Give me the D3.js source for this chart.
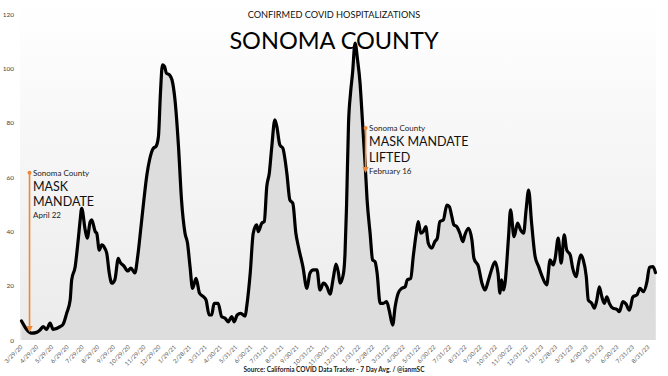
<!DOCTYPE html>
<html>
<head>
<meta charset="utf-8">
<script src="https://cdn.jsdelivr.net/npm/d3@7"></script>
<style>
  body { margin: 0; background: #fff; }
  svg { display: block; font-family: Lato, "Open Sans", sans-serif; }
</style>
</head>
<body>
<svg id="chart" width="668" height="376"></svg>
<script>
// 7 day avg of confirmed covid hospitalizations
var hospDates = ["2020-04-01","2020-04-21","2020-05-01","2020-05-08","2020-05-14","2020-05-21","2020-05-28","2020-06-03","2020-06-17","2020-06-23","2020-06-30","2020-07-07","2020-07-10","2020-07-17","2020-07-23","2020-07-27","2020-07-30","2020-08-06","2020-08-10","2020-08-16","2020-08-19","2020-08-26","2020-08-29","2020-09-03","2020-09-08","2020-09-14","2020-09-18","2020-09-23","2020-09-28","2020-10-04","2020-10-11","2020-10-14","2020-10-22","2020-10-30","2020-11-05","2020-11-13","2020-11-19","2020-11-25","2020-12-01","2020-12-07","2020-12-13","2020-12-20","2020-12-25","2020-12-30",
"2021-01-03","2021-01-07","2021-01-11","2021-01-15","2021-01-21","2021-01-26","2021-02-01","2021-02-08","2021-02-14","2021-02-21","2021-02-26","2021-03-03","2021-03-08","2021-03-15","2021-03-22","2021-03-30","2021-04-04","2021-04-10","2021-04-15","2021-04-20","2021-04-28","2021-05-05","2021-05-12","2021-05-18","2021-05-25","2021-05-30","2021-06-05","2021-06-12","2021-06-21","2021-06-24","2021-07-01","2021-07-07","2021-07-14","2021-07-17","2021-07-24","2021-07-29","2021-08-03","2021-08-08","2021-08-13","2021-08-19","2021-08-23","2021-08-29","2021-09-04","2021-09-12","2021-09-18","2021-09-24","2021-09-30","2021-10-05","2021-10-14","2021-10-22","2021-10-28","2021-11-04","2021-11-11","2021-11-17","2021-11-24","2021-12-01","2021-12-07","2021-12-14","2021-12-19","2021-12-24","2021-12-27",
"2022-01-03","2022-01-06","2022-01-09","2022-01-13","2022-01-17","2022-01-21","2022-01-26","2022-01-31","2022-02-05","2022-02-08","2022-02-12","2022-02-15","2022-02-19","2022-02-25","2022-03-02","2022-03-07","2022-03-11","2022-03-17","2022-03-23","2022-03-30","2022-04-04","2022-04-11","2022-04-16","2022-04-22","2022-04-29","2022-05-06","2022-05-10","2022-05-17","2022-05-22","2022-05-28","2022-06-01","2022-06-06","2022-06-11","2022-06-16","2022-06-21","2022-06-28","2022-07-04","2022-07-09","2022-07-14","2022-07-21","2022-07-28","2022-08-02","2022-08-07","2022-08-11","2022-08-17","2022-08-23","2022-08-29","2022-09-02","2022-09-09","2022-09-16","2022-09-20","2022-09-29","2022-10-06","2022-10-12","2022-10-19","2022-10-25","2022-11-01","2022-11-07","2022-11-11","2022-11-14","2022-11-18","2022-11-21","2022-11-28","2022-12-02","2022-12-09","2022-12-16","2022-12-22","2022-12-28",
"2023-01-02","2023-01-07","2023-01-13","2023-01-20","2023-01-27","2023-02-02","2023-02-12","2023-02-19","2023-02-25","2023-03-01","2023-03-07","2023-03-13","2023-03-19","2023-03-24","2023-03-31","2023-04-05","2023-04-12","2023-04-16","2023-04-21","2023-04-26","2023-05-02","2023-05-06","2023-05-13","2023-05-18","2023-05-23","2023-05-28","2023-06-02","2023-06-07","2023-06-12","2023-06-17","2023-06-24","2023-07-02","2023-07-07","2023-07-14","2023-07-20","2023-07-27","2023-08-03","2023-08-11","2023-08-17","2023-08-24","2023-08-31","2023-09-05","2023-09-12","2023-09-17"]

var hospAvg = [7.0,2.5,2.8,3.7,4.9,3.9,6.2,3.9,4.9,5.8,9.8,14.7,22.1,27.0,36.8,44.2,48.5,40.5,37.5,43.6,44.2,39.9,39.3,33.1,35.0,33.8,31.9,24.6,20.9,22.1,30.1,28.8,27.3,25.4,26.5,24.7,31.3,41.3,51.6,60.8,66.9,70.6,71.2,74.9,
90.9,101.3,100.7,98.2,97.6,95.8,88.4,71.2,51.6,39.3,35.6,27.0,19.0,22.7,17.2,15.9,14.7,9.2,9.2,13.5,13.5,8.6,8.0,6.7,8.6,6.7,9.2,9.8,8.8,12.3,24.6,39.3,42.4,39.9,43.0,43.6,56.5,61.4,71.2,81.0,78.6,71.8,70.6,61.4,51.6,50.3,39.3,34.4,27.0,19.0,24.6,25.8,25.8,18.4,20.9,19.6,16.9,23.3,27.9,24.6,20.9,
24.6,31.9,49.1,79.8,90.9,98.2,109.3,103.1,94.5,85.9,73.7,65.1,51.6,39.3,29.5,28.8,24.6,13.5,13.5,14.1,11.0,5.5,12.3,17.2,19.0,19.6,22.1,22.7,30.7,39.3,43.6,39.3,39.9,41.7,35.6,33.8,36.2,37.5,43.6,44.2,49.7,49.1,45.4,42.4,41.7,39.3,36.2,38.7,41.1,36.8,30.1,27.0,20.9,18.4,22.1,25.8,28.8,24.6,17.2,22.1,18.4,20.9,38.0,47.9,38.0,43.0,40.5,39.3,
47.9,55.2,43.0,30.7,27.0,23.9,20.3,29.5,27.6,30.1,37.5,28.3,38.7,33.1,31.3,26.4,23.3,27.6,31.3,29.5,23.3,14.7,13.5,11.7,14.7,19.6,15.9,13.5,15.9,13.5,11.7,11.3,10.4,14.1,13.3,11.0,15.9,16.6,19.0,17.8,21.5,26.8,27.0,24.8]

var tickLabels = ["3/29/20","4/29/20","5/29/20","6/29/20","7/29/20","8/29/20","9/29/20","10/29/20","11/29/20","12/29/20",
  "1/29/21","2/28/21","3/31/21","4/30/21","5/31/21","6/30/21","7/31/21","8/31/21","9/30/21","10/31/21","11/30/21","12/31/21",
  "1/31/22","2/28/22","3/31/22","4/30/22","5/31/22","6/30/22","7/31/22","8/31/22","9/30/22","10/31/22","11/30/22","12/31/22",
  "1/31/23","2/28/23","3/31/23","4/30/23","5/31/23","6/30/23","7/31/23","8/31/23"]
var yTicks = [0, 20, 40, 60, 80, 100, 120]

// annotations (mandate start / lifted)
var noteDates = ["2020-04-17", "2022-02-16"]
var noteTop = [61.6, 78]
var noteBottom = [4, 62.6]
var noteSmall = ["Sonoma County", "Sonoma County"]
var noteBig = [["MASK", "MANDATE"], ["MASK MANDATE", "LIFTED"]]
var noteDate = ["April 22", "February 16"]

var dims = {
    width: 668,
    height: 376,
    left: 20,
    right: 656,
    top: 0,
    bottom: 340
}

var parseDay = d3.timeParse("%Y-%m-%d")
var parseTick = d3.timeParse("%m/%d/%y")

var data = hospDates.map((d, i) => ({date: parseDay(d), value: hospAvg[i]}))

var svg = d3.select("#chart")

var xScale = d3.scaleTime()
        .domain([parseDay("2020-03-29"), parseDay("2023-09-18")])
        .range([dims.left, dims.right])

var yScale = d3.scaleLinear()
        .domain([0, 120])
        .range([dims.bottom, 14])

// background gradient of the plot
var defs = svg.append("defs")
var grad = defs.append("linearGradient")
        .attr("id", "bg-grad")
        .attr("x1", "0%").attr("y1", "0%")
        .attr("x2", "0%").attr("y2", "100%")
grad.append("stop").attr("offset", "0%").attr("stop-color", "#ffffff")
grad.append("stop").attr("offset", "100%").attr("stop-color", "#ebebeb")

svg.append("rect")
        .attr("x", dims.left)
        .attr("y", dims.top)
        .attr("width", dims.right - dims.left)
        .attr("height", dims.bottom - dims.top)
        .attr("fill", "url(#bg-grad)")

// gray area under the average
var area = d3.area()
        .x(d => xScale(d.date))
        .y0(yScale(0))
        .y1(d => yScale(d.value))
        .curve(d3.curveMonotoneX)

svg.append("path")
        .datum(data)
        .attr("d", area)
        .attr("fill", "#dddddd")

var line = d3.line()
        .x(d => xScale(d.date))
        .y(d => yScale(d.value))
        .curve(d3.curveMonotoneX)

svg.append("path")
        .datum(data)
        .attr("d", line)
        .attr("fill", "none")
        .attr("stroke", "#000")
        .attr("stroke-width", 3.2)
        .attr("stroke-linejoin", "round")
        .attr("stroke-linecap", "round")

// y axis labels only
var yAxis = d3.axisLeft(yScale)
        .tickValues(yTicks)
        .tickSize(0)
        .tickPadding(0)

svg.append("g")
        .attr("transform", "translate(14,0)")
        .call(yAxis)
        .call(g => g.select(".domain").remove())
        .selectAll("text")
        .attr("font-size", 6.5)
        .attr("font-family", "Lato, sans-serif")
        .attr("fill", "#444")

// x axis, rotated date labels
var xAxis = d3.axisBottom(xScale)
        .tickValues(tickLabels.map(parseTick))
        .tickFormat((d, i) => tickLabels[i])
        .tickSize(0)
        .tickPadding(0)

svg.append("g")
        .attr("transform", `translate(0,${dims.bottom + 5})`)
        .call(xAxis)
        .call(g => g.select(".domain").remove())
        .selectAll("text")
        .attr("font-size", 6)
        .attr("font-family", "Lato, sans-serif")
        .attr("fill", "#555")
        .attr("dy", "0.6em")
        .attr("text-anchor", "end")
        .attr("transform", "rotate(-45)")

// annotations
var orange = "#ef8737"
defs.append("marker")
        .attr("id", "arrow")
        .attr("viewBox", "0 0 10 10")
        .attr("refX", 5).attr("refY", 5)
        .attr("markerWidth", 4).attr("markerHeight", 4)
        .attr("orient", "auto")
        .append("path")
        .attr("d", "M0,0L10,5L0,10Z")
        .attr("fill", orange)

noteDates.forEach(function(d, i) {
    var nx = xScale(parseDay(d))
    var ny = yScale(noteTop[i])
    var g = svg.append("g")
    g.append("line")
            .attr("x1", nx).attr("x2", nx)
            .attr("y1", ny).attr("y2", yScale(noteBottom[i]))
            .attr("stroke", orange)
            .attr("stroke-width", 1.6)
            .attr("marker-end", "url(#arrow)")
    g.append("circle")
            .attr("cx", nx).attr("cy", ny)
            .attr("r", 2)
            .attr("fill", orange)
    g.append("text")
            .attr("x", nx + 3.5).attr("y", ny + 3)
            .attr("font-size", 8)
            .attr("fill", "#222")
            .text(noteSmall[i])
    noteBig[i].forEach(function(t, j) {
        g.append("text")
                .attr("x", nx + 3.5).attr("y", ny + 18 + j * 15.5)
                .attr("font-size", 12.5)
                .attr("fill", "#111")
                .text(t)
    })
    g.append("text")
            .attr("x", nx + 3.5).attr("y", ny + 45.5)
            .attr("font-size", 8)
            .attr("fill", "#222")
            .text(noteDate[i])
})

// titles
svg.append("text")
        .attr("x", 334).attr("y", 18)
        .attr("text-anchor", "middle")
        .attr("font-size", 9.2)
        .attr("fill", "#111")
        .text("CONFIRMED COVID HOSPITALIZATIONS")

svg.append("text")
        .attr("x", 334).attr("y", 49)
        .attr("text-anchor", "middle")
        .attr("font-size", 23.5)
        .attr("fill", "#000")
        .text("SONOMA COUNTY")

svg.append("text")
        .attr("x", 334).attr("y", 372)
        .attr("text-anchor", "middle")
        .attr("font-size", 6.5)
        .attr("font-weight", "bold")
        .attr("fill", "#222")
        .text("Source: California COVID Data Tracker - 7 Day Avg. / @ianmSC")
</script>
</body>
</html>
